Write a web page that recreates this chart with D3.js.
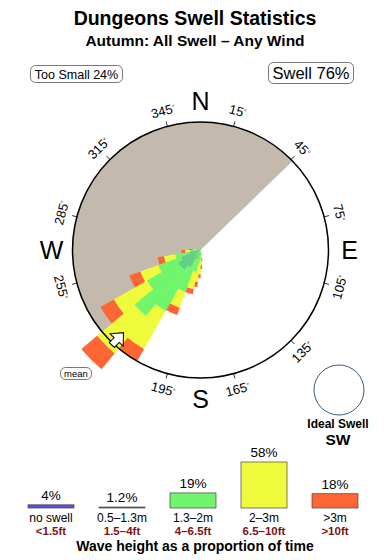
<!DOCTYPE html>
<html lang="en">
<head>
<meta charset="UTF-8">
<title>Dungeons Swell Statistics</title>
<script src="https://d3js.org/d3.v7.min.js"></script>
<style>
    body { margin: 0; background: #fff; }
    svg { display: block; font-family: "Liberation Sans", Arial, Helvetica, sans-serif; }
</style>
</head>
<body>
<svg id="chart" width="390" height="560"></svg>
<script>
    // rose data: one bar per direction, four stacked height bands (% of time)
    const directions = [170, 175, 180, 185, 190, 195, 205, 215, 225, 235, 245, 255, 265, 270];
    const band05 = [0, 0, 0, 0, 0.2, 0.4, 0.8, 1.6, 2.0, 2.0, 1.6, 0.9, 0.3, 0];
    const band13 = [0, 0.2, 0.5, 0.8, 0.9, 1.3, 2.7, 3.9, 4.7, 2.8, 1.9, 1.1, 0.5, 0.4];
    const band2 = [0.2, 0.4, 0.7, 1.1, 1.4, 1.4, 1.3, 3.4, 3.8, 3.0, 1.5, 0.9, 0.4, 0.2];
    const band3 = [0.2, 0.3, 0.3, 0.3, 0.4, 0.4, 0.6, 1.1, 1.6, 1.2, 0.9, 0.5, 0.3, 0.3];
    const bandColors = ["#60cf84", "#70f56d", "#f0fa3c", "#ff6633"];

    const shadowFrom = 229, shadowTo = 406;  // blocked swell window
    const meanDir = 223;

    const tickBearings = [15, 45, 75, 105, 135, 165, 195, 255, 285, 315, 345];
    const compass = [["N", 0], ["E", 90], ["S", 180], ["W", 270]];

    // legend
    const legendLabels = ["no swell", "0.5\u20131.3m", "1.3\u20132m", "2\u20133m", ">3m"];
    const legendFeet = ["<1.5ft", "1.5\u20134ft", "4\u20136.5ft", "6.5\u201310ft", ">10ft"];
    const legendPct = [4, 1.2, 19, 58, 18];
    const legendText = ["4%", "1.2%", "19%", "58%", "18%"];
    const legendColors = ["#5a50e8", "#6d7d6d", "#70f56d", "#f0fa3c", "#ff6633"];

    const svg = d3.select("#chart");
    const cx = 200.5, cy = 250, R = 128;
    const rad = d => d * Math.PI / 180;
    const polar = (b, r) => [cx + r * Math.sin(rad(b)), cy - r * Math.cos(rad(b))];

    // titles
    svg.append("text").attr("x", 195).attr("y", 25).attr("text-anchor", "middle")
        .style("font-size", "19.5px").style("font-weight", "bold").text("Dungeons Swell Statistics");
    svg.append("text").attr("x", 195).attr("y", 46).attr("text-anchor", "middle")
        .style("font-size", "15.5px").style("font-weight", "bold").text("Autumn: All Swell \u2013 Any Wind");

    // summary boxes
    function box(x, y, w, h, label, size, ty) {
        svg.append("rect").attr("x", x).attr("y", y).attr("width", w).attr("height", h)
            .attr("rx", 5).attr("fill", "#fff").attr("stroke", "#555").attr("stroke-width", 0.8);
        svg.append("text").attr("x", x + w / 2).attr("y", ty).attr("text-anchor", "middle")
            .style("font-size", size + "px").text(label);
    }
    box(30.5, 65.5, 92, 17, "Too Small 24%", 12.5, 78.5);
    box(268.5, 62.5, 85, 21, "Swell 76%", 16.5, 79);

    const rose = svg.append("g").attr("transform", `translate(${cx},${cy})`);
    const r = d3.scaleLinear().domain([0, 10]).range([0, R]);

    // swell shadow
    rose.append("path")
        .attr("d", d3.arc()({ innerRadius: 0, outerRadius: R, startAngle: rad(shadowFrom), endAngle: rad(shadowTo) }))
        .attr("fill", "#c4b9ad");

    // ticks and degree labels
    tickBearings.forEach(b => {
        const [x1, y1] = polar(b, R), [x2, y2] = polar(b, R + 5);
        svg.append("line").attr("x1", x1).attr("y1", y1).attr("x2", x2).attr("y2", y2)
            .attr("stroke", "#000").attr("stroke-width", 0.8);
        const [lx, ly] = polar(b, 144);
        const rot = (b > 90 && b < 270) ? b - 180 : b;
        const t = svg.append("text").attr("transform", `translate(${lx},${ly}) rotate(${rot})`)
            .attr("text-anchor", "middle").attr("dy", "0.35em").style("font-size", "13px");
        t.append("tspan").text(b);
        t.append("tspan").attr("dy", "-0.45em").style("font-size", "7px").text("\u00b0");
    });

    compass.forEach(([l, b]) => {
        const [x, y] = polar(b, 149);
        svg.append("text").attr("x", x).attr("y", y).attr("dy", "0.36em")
            .attr("text-anchor", "middle").style("font-size", "25px").text(l);
    });

    // bars, shortest drawn first so longer ones sit on top
    const bars = directions.map((d, i) => {
        const vals = [band05[i], band13[i], band2[i], band3[i]];
        let acc = 0;
        const segs = vals.map((v, k) => { const s = { k, a: acc, b: acc + v }; acc += v; return s; });
        return { dir: d, total: acc, segs };
    }).sort((a, b) => a.total - b.total);

    const arc = d3.arc();
    const half = 5.3;
    rose.selectAll("g.bar").data(bars).enter().append("g").attr("class", "bar")
        .selectAll("path").data(d => d.segs.filter(s => s.b > s.a).map(s => ({ ...s, dir: d.dir })))
        .enter().append("path")
        .attr("d", s => arc({ innerRadius: r(s.a), outerRadius: r(s.b),
            startAngle: rad(s.dir - half), endAngle: rad(s.dir + half) }))
        .attr("fill", s => bandColors[s.k]);

    // outer circle
    rose.append("circle").attr("r", R).attr("fill", "none").attr("stroke", "#000").attr("stroke-width", 1.5);

    // mean arrow pointing in to the centre
    const [ax, ay] = polar(meanDir, 123);
    svg.append("path")
        .attr("transform", `translate(${ax},${ay}) rotate(${meanDir - 180})`)
        .attr("d", "M0,-10 L9,0 L3.5,0 L3.5,7 L-3.5,7 L-3.5,0 L-9,0 Z")
        .attr("fill", "#fff").attr("stroke", "#000").attr("stroke-width", 1);
    box(60.5, 367.5, 31, 12, "mean", 9.5, 377);

    // ideal swell
    svg.append("circle").attr("cx", 339).attr("cy", 390).attr("r", 25)
        .attr("fill", "#fff").attr("stroke", "#3d5b78").attr("stroke-width", 1);
    svg.append("text").attr("x", 338).attr("y", 428).attr("text-anchor", "middle")
        .style("font-size", "12px").style("font-weight", "bold").text("Ideal Swell");
    svg.append("text").attr("x", 338).attr("y", 445).attr("text-anchor", "middle")
        .style("font-size", "15.5px").style("font-weight", "bold").text("SW");

    // height legend
    const base = 508;
    const lx = d3.scalePoint().domain(legendLabels).range([51, 335]);
    const lh = d3.scaleLinear().domain([0, 58]).range([0, 46]);
    const bw = 46;
    const items = svg.selectAll("g.leg").data(legendLabels).enter().append("g").attr("class", "leg");
    items.append("rect")
        .attr("x", d => lx(d) - bw / 2).attr("width", bw)
        .attr("y", (d, i) => base - lh(legendPct[i])).attr("height", (d, i) => lh(legendPct[i]))
        .attr("fill", (d, i) => legendColors[i]).attr("stroke", "#444").attr("stroke-width", 0.7);
    items.append("text").attr("x", d => lx(d)).attr("y", (d, i) => base - lh(legendPct[i]) - 5)
        .attr("text-anchor", "middle").style("font-size", "13.5px").text((d, i) => legendText[i]);
    items.append("text").attr("x", d => lx(d)).attr("y", 522)
        .attr("text-anchor", "middle").style("font-size", "12px").text(d => d);
    items.append("text").attr("x", d => lx(d)).attr("y", 535)
        .attr("text-anchor", "middle").style("font-size", "11.5px").style("font-weight", "bold")
        .attr("fill", "#7b1414").text((d, i) => legendFeet[i]);
    svg.append("text").attr("x", 195).attr("y", 551).attr("text-anchor", "middle")
        .style("font-size", "14px").style("font-weight", "bold").text("Wave height as a proportion of time");
</script>
</body>
</html>
